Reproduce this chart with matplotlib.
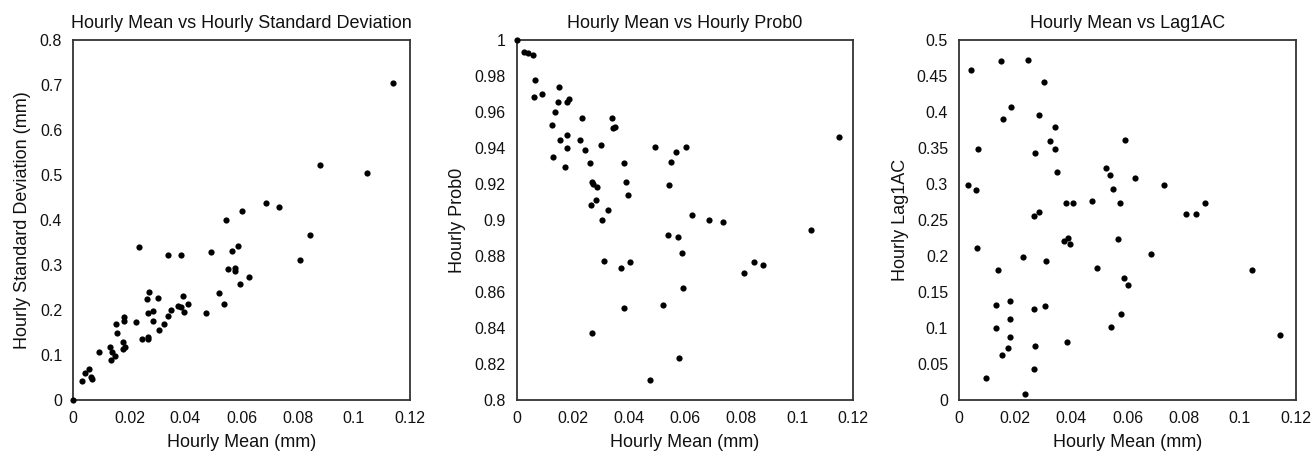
import matplotlib
matplotlib.use("Agg")
from matplotlib import pyplot as plt
from matplotlib.ticker import FuncFormatter, MultipleLocator

plt.rcParams["font.family"] = ["Liberation Sans", "DejaVu Sans"]

# Panel 1: hourly mean vs hourly standard deviation
sd_mean = [0.0, 0.0030, 0.0042, 0.0057, 0.0062, 0.0066, 0.0093, 0.0131, 0.0137, 0.0133,
           0.0149, 0.0153, 0.0157, 0.0179, 0.0176, 0.0185, 0.0181, 0.0181, 0.0224, 0.0235,
           0.0244, 0.0268, 0.0268, 0.0264, 0.0270, 0.0266, 0.0283, 0.0286, 0.0301, 0.0307,
           0.0324, 0.0339, 0.0339, 0.0349, 0.0385, 0.0372, 0.0383, 0.0391, 0.0395, 0.0408,
           0.0474, 0.0492, 0.0521, 0.0538, 0.0544, 0.0550, 0.0566, 0.0576, 0.0576, 0.0589,
           0.0593, 0.0602, 0.0628, 0.0687, 0.0733, 0.0810, 0.0845, 0.0878, 0.1047, 0.1140]
sd_std = [0.0, 0.043, 0.059, 0.069, 0.052, 0.046, 0.107, 0.118, 0.107, 0.089,
          0.098, 0.168, 0.150, 0.130, 0.113, 0.117, 0.184, 0.176, 0.174, 0.341,
          0.136, 0.141, 0.135, 0.225, 0.239, 0.193, 0.198, 0.176, 0.226, 0.156,
          0.169, 0.322, 0.187, 0.200, 0.322, 0.209, 0.206, 0.232, 0.196, 0.213,
          0.193, 0.330, 0.238, 0.213, 0.401, 0.292, 0.331, 0.294, 0.286, 0.343,
          0.257, 0.421, 0.273, 0.438, 0.429, 0.311, 0.366, 0.523, 0.504, 0.704]

# Panel 2: hourly mean vs hourly prob0
p0_mean = [0.0, 0.0026, 0.0042, 0.0057, 0.0066, 0.0062, 0.0092, 0.0150, 0.0148, 0.0136,
           0.0127, 0.0131, 0.0155, 0.0174, 0.0180, 0.0180, 0.0179, 0.0185, 0.0224, 0.0234,
           0.0244, 0.0263, 0.0268, 0.0272, 0.0286, 0.0266, 0.0284, 0.0270, 0.0302, 0.0305,
           0.0324, 0.0312, 0.0341, 0.0344, 0.0349, 0.0373, 0.0384, 0.0389, 0.0396, 0.0383,
           0.0403, 0.0492, 0.0474, 0.0549, 0.0567, 0.0603, 0.0543, 0.0538, 0.0575, 0.0588,
           0.0523, 0.0592, 0.0577, 0.0626, 0.0686, 0.0734, 0.0811, 0.0847, 0.0879, 0.1049,
           0.1149]
p0_prob = [1.0, 0.9932, 0.9930, 0.9918, 0.9779, 0.9683, 0.9698, 0.9738, 0.9655, 0.9598,
           0.9530, 0.9350, 0.9444, 0.9293, 0.9472, 0.9402, 0.9655, 0.9670, 0.9444, 0.9568,
           0.9389, 0.9319, 0.9211, 0.9198, 0.9183, 0.9086, 0.9111, 0.8373, 0.9416, 0.9002,
           0.9058, 0.8775, 0.9568, 0.9513, 0.9518, 0.8736, 0.9319, 0.9209, 0.9139, 0.8512,
           0.8764, 0.9404, 0.8111, 0.9320, 0.9376, 0.9404, 0.9197, 0.8919, 0.8904, 0.8817,
           0.8527, 0.8623, 0.8235, 0.9030, 0.9002, 0.8988, 0.8706, 0.8764, 0.8749, 0.8945,
           0.9459]

# Panel 3: hourly mean vs lag-1 autocorrelation
ac_mean = [0.0042, 0.0030, 0.0059, 0.0068, 0.0064, 0.0094, 0.0149, 0.0157, 0.0184, 0.0138,
           0.0130, 0.0181, 0.0181, 0.0133, 0.0181, 0.0174, 0.0153, 0.0244, 0.0302, 0.0284,
           0.0341, 0.0325, 0.0340, 0.0270, 0.0347, 0.0267, 0.0285, 0.0382, 0.0407, 0.0373,
           0.0389, 0.0396, 0.0226, 0.0311, 0.0266, 0.0306, 0.0270, 0.0265, 0.0384, 0.0235,
           0.0473, 0.0522, 0.0537, 0.0548, 0.0574, 0.0591, 0.0626, 0.0732, 0.0566, 0.0493,
           0.0685, 0.0587, 0.0603, 0.0577, 0.0542, 0.0808, 0.0845, 0.0875, 0.1044, 0.1143]
ac_lag1 = [0.458, 0.298, 0.292, 0.349, 0.211, 0.031, 0.471, 0.390, 0.407, 0.181,
           0.132, 0.138, 0.113, 0.100, 0.088, 0.072, 0.062, 0.472, 0.442, 0.396,
           0.379, 0.360, 0.349, 0.343, 0.317, 0.256, 0.261, 0.274, 0.274, 0.221,
           0.225, 0.216, 0.199, 0.193, 0.127, 0.131, 0.075, 0.043, 0.081, 0.008,
           0.276, 0.322, 0.312, 0.293, 0.273, 0.361, 0.308, 0.299, 0.224, 0.184,
           0.203, 0.169, 0.160, 0.119, 0.101, 0.258, 0.259, 0.274, 0.181, 0.090]

titles = ["Hourly Mean vs Hourly Standard Deviation", "Hourly Mean vs Hourly Prob0",
          "Hourly Mean vs Lag1AC"]
ylabels = ["Hourly Standard Deviation (mm)", "Hourly Prob0", "Hourly Lag1AC"]
xlabel = "Hourly Mean (mm)"

panels = [(sd_mean, sd_std, (0, 0.8), 0.1),
          (p0_mean, p0_prob, (0.8, 1.0), 0.02),
          (ac_mean, ac_lag1, (0, 0.5), 0.05)]

fmt = FuncFormatter(lambda v, pos: f"{round(v, 4):g}")

fig = plt.figure(figsize=(13.13, 4.57), dpi=100)
lefts = [73.3, 516.7, 959.2]
for i, (xs, ys, ylim, ystep) in enumerate(panels):
    ax = fig.add_axes([lefts[i] / 1313, 57 / 457, 336.5 / 1313, 360 / 457])
    ax.scatter(xs, ys, s=20, color="black", linewidths=0, clip_on=False, zorder=3)
    ax.set_xlim(0, 0.12)
    ax.set_ylim(*ylim)
    ax.xaxis.set_major_locator(MultipleLocator(0.02))
    ax.yaxis.set_major_locator(MultipleLocator(ystep))
    ax.xaxis.set_major_formatter(fmt)
    ax.yaxis.set_major_formatter(fmt)
    ax.tick_params(length=0, labelsize=11.5, pad=8, colors="#111111")
    for sp in ax.spines.values():
        sp.set_linewidth(1.3)
        sp.set_color("#333333")
    ax.set_title(titles[i], fontsize=13, pad=9, color="#111111")
    ax.set_xlabel(xlabel, fontsize=13, labelpad=6, color="#111111")
    ax.set_ylabel(ylabels[i], fontsize=13, labelpad=6, color="#111111")

fig.savefig("out.png", dpi=100)
